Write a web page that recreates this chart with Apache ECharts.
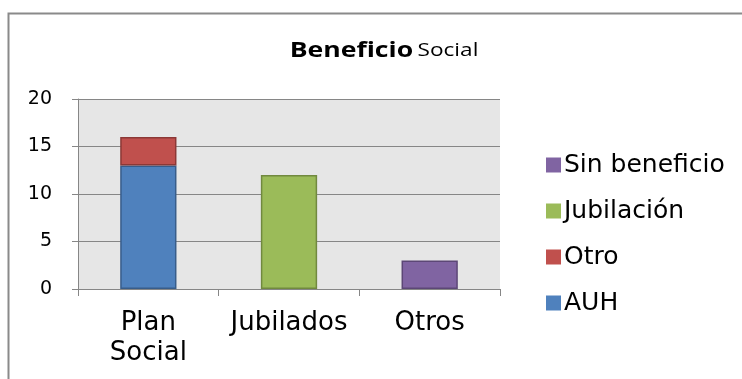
<!DOCTYPE html>
<html>
<head>
<meta charset="utf-8">
<script src="https://cdn.jsdelivr.net/npm/echarts@6/dist/echarts.min.js"></script>
<style>
html,body{margin:0;padding:0;background:#fff;}
#c{width:742px;height:379px;}
</style>
</head>
<body>
<div id="c"></div>
<script>
var categories = ['Plan\nSocial', 'Jubilados', 'Otros'];
var auh = [13, '-', '-'];
var otro = [3, '-', '-'];
var jubilacion = ['-', 12, '-'];
var sinBeneficio = ['-', '-', 3];
var legendOrder = ['Sin beneficio', 'Jubilación', 'Otro', 'AUH'];
var titleBold = 'Beneficio';
var titleRest = 'Social';

var chart = echarts.init(document.getElementById('c'));
var base = {type: 'bar', stack: 'total', barWidth: '40%'};
function mk(name, data, color, border) {
  return Object.assign({}, base, {
    name: name, data: data,
    itemStyle: {color: color, borderColor: border, borderWidth: 1.5}
  });
}
chart.setOption({
  animation: false,
  backgroundColor: '#fff',
  graphic: [{
    type: 'rect', shape: {x: 8.5, y: 13.5, width: 745, height: 380},
    style: {fill: 'none', stroke: '#8a8a8a', lineWidth: 2}, z: -1
  }, {
    type: 'text', x: 384, y: 51, scaleX: 1.33, scaleY: 1.05,
    style: {
      text: '{b|' + titleBold + '} {s|' + titleRest + '}',
      align: 'center', verticalAlign: 'middle',
      rich: {
        b: {fontFamily: 'Open Sans', fontWeight: 'bold', fontSize: 20, fill: '#000', color: '#000'},
        s: {fontFamily: 'Open Sans', fontSize: 17, fill: '#000', color: '#000'}
      }
    }
  }],
  legend: {
    orient: 'vertical', left: 541, top: 147,
    data: legendOrder,
    icon: 'rect', itemWidth: 15, itemHeight: 15, itemGap: 20,
    itemStyle: {borderWidth: 0},
    textStyle: {fontFamily: 'DejaVu Sans', fontSize: 25, lineHeight: 26, color: '#000', padding: [0,0,0,-2]}
  },
  grid: {left: 78, right: 242, top: 99, bottom: 90, show: true, backgroundColor: '#e6e6e6', borderWidth: 0},
  xAxis: {
    type: 'category', data: categories,
    axisLine: {lineStyle: {color: '#868686', width: 1}},
    axisTick: {show: true, length: 7, lineStyle: {color: '#868686'}},
    axisLabel: {interval: 0, fontFamily: 'DejaVu Sans', fontSize: 26, color: '#000', lineHeight: 30, margin: 19}
  },
  yAxis: {
    type: 'value', min: 0, max: 20, interval: 5,
    axisLine: {show: true, lineStyle: {color: '#868686', width: 1}},
    axisTick: {show: true, length: 6, lineStyle: {color: '#868686'}},
    splitLine: {lineStyle: {color: '#868686', width: 1}},
    axisLabel: {fontFamily: 'DejaVu Sans', fontSize: 19, color: '#000', margin: 26}
  },
  series: [
    mk('AUH', auh, '#4f81bd', '#385d8a'),
    mk('Otro', otro, '#c0504d', '#8c3836'),
    mk('Jubilación', jubilacion, '#9bbb59', '#71893f'),
    mk('Sin beneficio', sinBeneficio, '#8064a2', '#5c4776')
  ]
});
</script>
</body>
</html>
